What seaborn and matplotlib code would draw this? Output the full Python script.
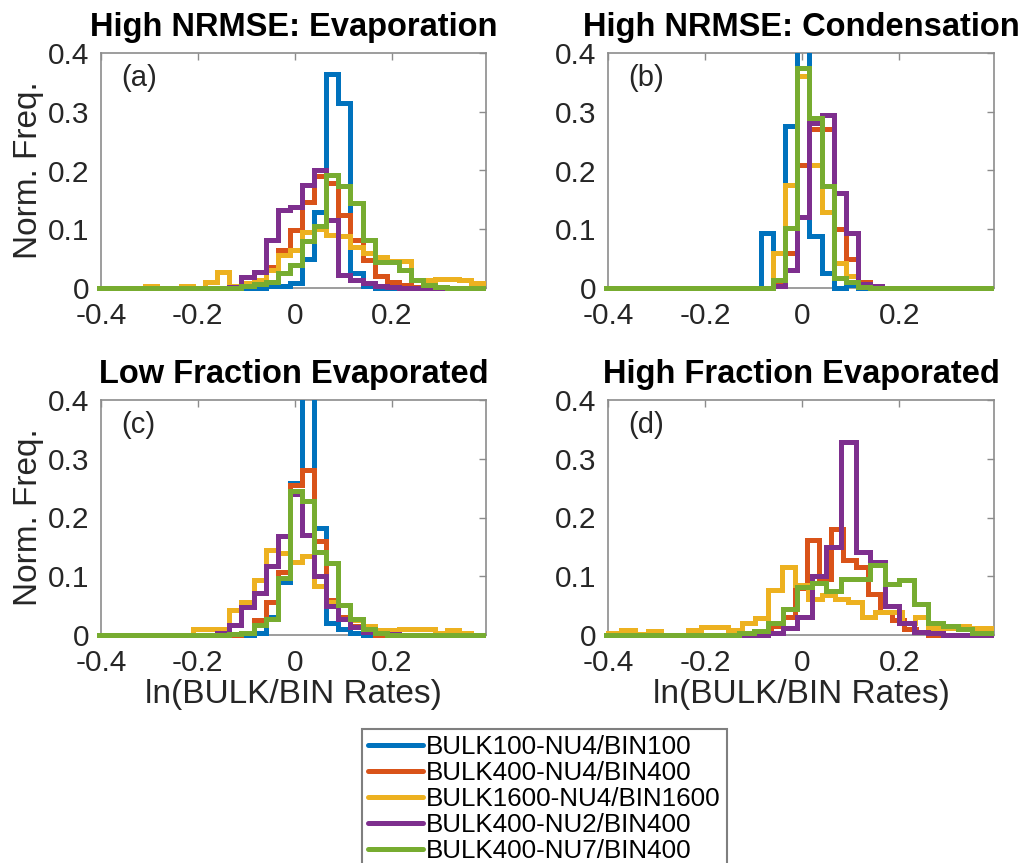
import numpy as np
import matplotlib
matplotlib.use("Agg")
import matplotlib.pyplot as plt
from matplotlib.transforms import Bbox, TransformedBbox
import seaborn as sns

# ---------------- data ----------------
series_names = ["BULK100-NU4/BIN100", "BULK400-NU4/BIN400", "BULK1600-NU4/BIN1600",
                "BULK400-NU2/BIN400", "BULK400-NU7/BIN400"]
series_colors = ["#0072BD", "#D95319", "#EDB120", "#7E2F8E", "#77AC30"]
panel_titles = ["High NRMSE: Evaporation", "High NRMSE: Condensation",
                "Low Fraction Evaporated", "High Fraction Evaporated"]
panel_tags = ["(a)", "(b)", "(c)", "(d)"]
x_ticks = [-0.4, -0.2, 0, 0.2]
x_tick_labels = ["-0.4", "-0.2", "0", "0.2"]
y_ticks = [0, 0.1, 0.2, 0.3, 0.4]
y_tick_labels = ["0", "0.1", "0.2", "0.3", "0.4"]
x_label = "ln(BULK/BIN Rates)"
y_label = "Norm. Freq."

# (a) High NRMSE: Evaporation  (bin width, first bin left edge, heights)
a_bin = 0.025
a_blue_x0 = -0.06
a_blue = [0.004, 0.004, 0.008, 0.05, 0.13, 0.365, 0.315, 0.025, 0.004]
a_orange_x0 = -0.11
a_orange = [0.005, 0.011, 0.035, 0.065, 0.099, 0.147, 0.19, 0.178, 0.124, 0.082,
            0.048, 0.02, 0.01, 0.005, 0.002]
a_yellow_x0 = -0.31
a_yellow = [0.004, 0, 0, 0.004, 0, 0.01, 0.028, 0.004, 0.008, 0.014, 0.03, 0.057,
            0.065, 0.095, 0.1, 0.09, 0.088, 0.07, 0.06, 0.052, 0.046, 0.046, 0.014,
            0.014, 0.016, 0.016, 0.014, 0.008]
a_purple_x0 = -0.135
a_purple = [0.002, 0.019, 0.028, 0.082, 0.133, 0.138, 0.175, 0.201, 0.116, 0.022,
            0.013, 0.008, 0.004, 0.002]
a_green_x0 = -0.11
a_green = [0.004, 0.006, 0.011, 0.025, 0.039, 0.08, 0.105, 0.193, 0.173, 0.145,
           0.082, 0.045, 0.045, 0.031, 0.014, 0.005, 0.002]

# (b) High NRMSE: Condensation
b_bin = 0.025
b_x0 = -0.085
b_blue = [0.094, 0.003, 0.275, 0.5, 0.088, 0.026, 0, 0.005]
b_orange = [0, 0.01, 0.06, 0.21, 0.27, 0.27, 0.1, 0.05, 0.01, 0.004]
b_yellow = [0, 0.06, 0.176, 0.36, 0.21, 0.13, 0.043, 0.02, 0.005]
b_purple = [0, 0.003, 0.03, 0.12, 0.28, 0.295, 0.162, 0.094, 0.006, 0.003]
b_green = [0, 0.014, 0.102, 0.375, 0.29, 0.173, 0.017, 0.01, 0.002]

# (c) Low Fraction Evaporated
c_bin = 0.025
c_blue_x0 = -0.085
c_blue = [0.003, 0.03, 0.091, 0.259, 0.42, 0.182, 0.02, 0.01, 0.003]
c_orange_x0 = -0.11
c_orange = [0.003, 0.026, 0.057, 0.108, 0.255, 0.28, 0.16, 0.06, 0.03, 0.015, 0.005]
c_yellow_x0 = -0.21
c_yellow = [0.011, 0.011, 0.011, 0.043, 0.057, 0.094, 0.145, 0.14, 0.125, 0.134,
            0.083, 0.057, 0.028, 0.026, 0.015, 0.008, 0.008, 0.01, 0.01, 0.01,
            0.004, 0.008, 0.004]
c_purple_x0 = -0.16
c_purple = [0.003, 0.017, 0.048, 0.071, 0.117, 0.168, 0.24, 0.17, 0.1, 0.05, 0.028,
            0.014, 0.005, 0.003, 0.002]
c_green_x0 = -0.135
c_green = [0.002, 0.004, 0.017, 0.028, 0.097, 0.245, 0.228, 0.142, 0.122, 0.051,
           0.028, 0.011, 0.004]

# (d) High Fraction Evaporated (no BULK100 series)
d_orange_bin = 0.025
d_orange_x0 = -0.09
d_orange = [0.005, 0.015, 0.03, 0.08, 0.161, 0.096, 0.181, 0.127, 0.116, 0.07,
            0.04, 0.025, 0.01, 0.005]
d_yellow_bin = 0.0275
d_yellow_x0 = -0.4
d_yellow = [0.003, 0.009, 0.002, 0.006, 0, 0, 0.009, 0.013, 0.013, 0.009, 0.02,
            0.029, 0.076, 0.116, 0.085, 0.061, 0.068, 0.062, 0.057, 0.031, 0.04,
            0.04, 0.02, 0.031, 0.012, 0.012, 0.015, 0.012, 0.012]
d_purple_bin = 0.03
d_purple_x0 = -0.07
d_purple = [0.004, 0.012, 0.03, 0.1, 0.15, 0.328, 0.142, 0.125, 0.049, 0.02, 0.005, 0.003]
d_green_bin = 0.03
d_green_x0 = -0.13
d_green = [0.003, 0.006, 0.02, 0.045, 0.081, 0.088, 0.075, 0.095, 0.095, 0.119,
           0.087, 0.093, 0.052, 0.02, 0.015, 0.01, 0.003, 0.003]

panels = [
    [(a_blue_x0, a_bin, a_blue), (a_orange_x0, a_bin, a_orange),
     (a_yellow_x0, a_bin, a_yellow), (a_purple_x0, a_bin, a_purple),
     (a_green_x0, a_bin, a_green)],
    [(b_x0, b_bin, b_blue), (b_x0, b_bin, b_orange), (b_x0, b_bin, b_yellow),
     (b_x0, b_bin, b_purple), (b_x0, b_bin, b_green)],
    [(c_blue_x0, c_bin, c_blue), (c_orange_x0, c_bin, c_orange),
     (c_yellow_x0, c_bin, c_yellow), (c_purple_x0, c_bin, c_purple),
     (c_green_x0, c_bin, c_green)],
    [None, (d_orange_x0, d_orange_bin, d_orange), (d_yellow_x0, d_yellow_bin, d_yellow),
     (d_purple_x0, d_purple_bin, d_purple), (d_green_x0, d_green_bin, d_green)],
]

# ---------------- style ----------------
sns.set_style("white")
plt.rcParams["font.family"] = ["Liberation Sans", "DejaVu Sans"]
plt.rcParams["axes.unicode_minus"] = False

XMIN, XMAX = -0.4, 0.395
W, H = 1026, 863
GRAY = "#8c8c8c"
TXT = "#262626"

fig = plt.figure(figsize=(W / 100, H / 100), dpi=100)
fig.patch.set_facecolor("white")
boxes = [(101, 53, 486, 288), (608, 53, 994, 288),
         (101, 400, 486, 635), (608, 400, 994, 635)]
axes = [fig.add_axes([l / W, 1 - b / H, (r - l) / W, (b - t) / H]) for (l, t, r, b) in boxes]


def draw_series(ax, x0, width, heights, color, label):
    heights = np.asarray(heights, float)
    n_left = int(np.ceil((x0 - (XMIN - 0.03)) / width))
    n_right = max(int(np.ceil(((XMAX + 0.03) - (x0 + width * len(heights))) / width)), 1)
    k = np.arange(-n_left, len(heights) + n_right + 1)
    edges = x0 + width * k
    h = np.concatenate([np.zeros(n_left), heights, np.zeros(n_right)])
    centers = 0.5 * (edges[:-1] + edges[1:])
    sns.histplot(x=centers, weights=h, bins=[float(e) for e in edges], element="step",
                 fill=False, stat="count", color=color, linewidth=3.6, ax=ax)
    line = ax.lines[-1]
    line.set_label(label)
    line.set_zorder(3)
    line.set_solid_joinstyle("miter")
    line.set_clip_path(None)
    line.set_clip_box(TransformedBbox(Bbox([[XMIN - 0.008, -0.007], [XMAX, 0.4]]),
                                      ax.transData))


for i, ax in enumerate(axes):
    for s, spec in enumerate(panels[i]):
        if spec is None:
            continue
        x0, w, hts = spec
        draw_series(ax, x0, w, hts, series_colors[s], series_names[s])
    ax.set_xlim(XMIN, XMAX)
    ax.set_ylim(0, 0.4)
    ax.set_xticks(x_ticks)
    ax.set_xticklabels(x_tick_labels)
    ax.set_yticks(y_ticks)
    ax.set_yticklabels(y_tick_labels)
    ax.tick_params(direction="in", top=True, right=True, length=5, width=1,
                   color=GRAY, labelsize=21.5, labelcolor=TXT)
    ax.tick_params(axis="x", pad=10)
    ax.tick_params(axis="y", pad=8.5)
    for sp in ax.spines.values():
        sp.set_color(GRAY)
        sp.set_linewidth(1.2)
        sp.set_visible(True)
    ax.set_title(panel_titles[i], fontsize=23.5, fontweight="bold", pad=12, color="black")
    ax.text(0.053, 0.955, panel_tags[i], transform=ax.transAxes, ha="left", va="top",
            fontsize=21, color=TXT)
    ax.set_xlabel(x_label if i >= 2 else "", fontsize=24, color=TXT, labelpad=1.5)
    ax.set_ylabel(y_label if i % 2 == 0 else "", fontsize=24, color=TXT, labelpad=3)
    ax.grid(False)

handles = axes[0].lines[:5]
leg = fig.legend(handles, series_names, loc="upper center",
                 bbox_to_anchor=(544.5 / W, 1 - 729 / H), fontsize=18.7,
                 frameon=True, fancybox=False, edgecolor="#7f7f7f", framealpha=1,
                 handlelength=2.1, handletextpad=0.12, borderpad=0.25,
                 labelspacing=0.07, borderaxespad=0)
leg.get_frame().set_linewidth(1.5)
for t in leg.get_texts():
    t.set_color("black")

fig.savefig("out.png", dpi=100)
